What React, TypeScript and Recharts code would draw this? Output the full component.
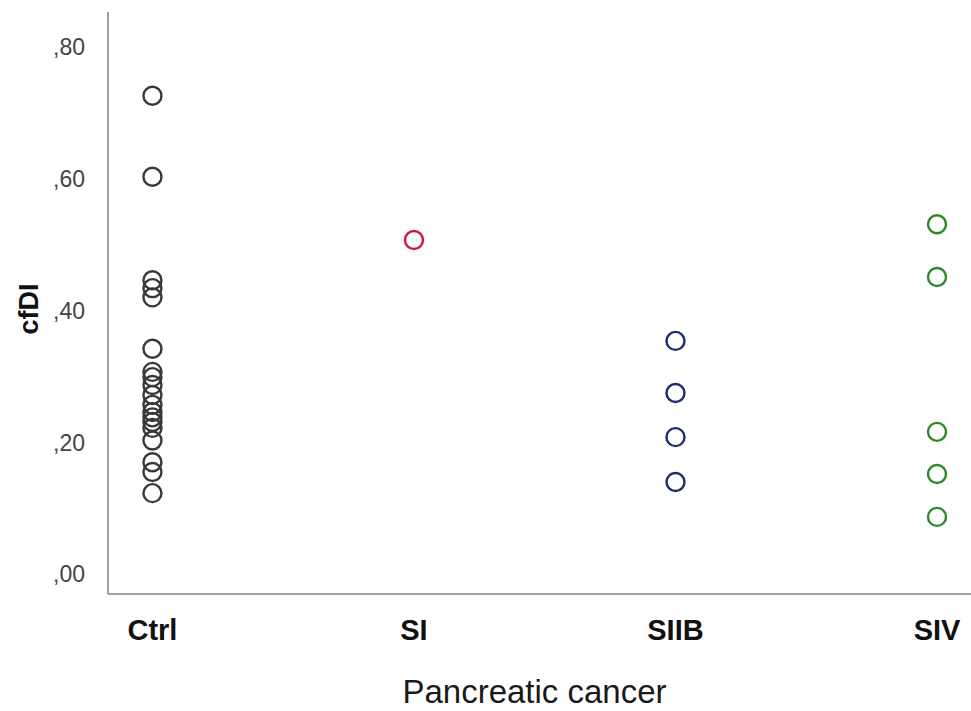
import React from 'react';
import { ScatterChart, Scatter, XAxis, YAxis, Label } from 'recharts';

const categories = ['Ctrl', 'SI', 'SIIB', 'SIV'];
const yTicks = [0, 0.2, 0.4, 0.6, 0.8];

const ctrlValues = [0.726, 0.603, 0.446, 0.434, 0.42, 0.342, 0.307, 0.299, 0.287, 0.272, 0.257, 0.246, 0.238, 0.231, 0.222, 0.203, 0.17, 0.155, 0.123];
const siValues = [0.507];
const siibValues = [0.354, 0.275, 0.208, 0.14];
const sivValues = [0.531, 0.451, 0.216, 0.152, 0.087];

const colors = ['#383838', '#d0163f', '#1e2b6c', '#2a8a2a'];

const toPoints = (vals: number[], idx: number) => vals.map((v) => ({ x: idx, y: v }));

const ring = (color: string) => (props: any) => (
  <circle cx={props.cx} cy={props.cy} r={9} fill="none" stroke={color} strokeWidth={2.4} />
);

const fmtY = (v: number) => ',' + v.toFixed(2).split('.')[1];

export default function App() {
  const series = [ctrlValues, siValues, siibValues, sivValues];
  return (
    <div style={{ position: 'absolute', left: 0, top: 0, width: 971, height: 711, background: '#fff' }}>
      <ScatterChart width={971} height={711} margin={{ top: 12, right: 0, bottom: 0, left: 0 }}>
        <XAxis
          type="number"
          dataKey="x"
          domain={[-0.17, 3.13]}
          ticks={[0, 1, 2, 3]}
          tickFormatter={(v: number) => categories[v]}
          tickLine={false}
          tickSize={6}
          tickMargin={19}
          height={117}
          axisLine={{ stroke: '#a0a0a0', strokeWidth: 2 }}
          tick={{ fontFamily: 'Liberation Sans, Arial, sans-serif', fontSize: 29, fontWeight: 'bold', fill: '#111' }}
          allowDataOverflow
        >
          <Label
            value="Pancreatic cancer"
            position="insideBottom"
            offset={8}
            dx={-5}
            style={{ fontFamily: 'Liberation Sans, Arial, sans-serif', fontSize: 33, fill: '#1a1a1a' }}
          />
        </XAxis>
        <YAxis
          type="number"
          dataKey="y"
          domain={[-0.03, 0.853]}
          ticks={yTicks}
          tickFormatter={fmtY}
          tickLine={false}
          tickSize={6}
          tickMargin={17}
          width={108}
          axisLine={{ stroke: '#a0a0a0', strokeWidth: 2 }}
          tick={{ fontFamily: 'Liberation Sans Narrow, Liberation Sans, Arial, sans-serif', fontSize: 23, fill: '#444' }}
          allowDataOverflow
        >
          <Label
            value="cfDI"
            angle={-90}
            position="insideLeft"
            offset={28}
            dy={6}
            style={{ textAnchor: 'middle', fontFamily: 'Liberation Sans, Arial, sans-serif', fontSize: 27, fontWeight: 'bold', fill: '#111' }}
          />
        </YAxis>
        {series.map((vals, i) => (
          <Scatter
            key={categories[i]}
            name={categories[i]}
            data={toPoints(vals, i)}
            shape={ring(colors[i])}
            isAnimationActive={false}
          />
        ))}
      </ScatterChart>
    </div>
  );
}
